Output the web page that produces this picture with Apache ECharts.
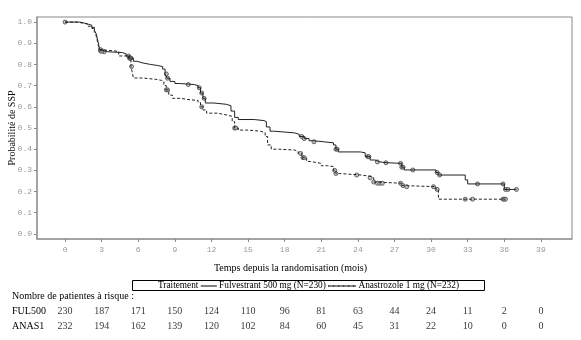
<!DOCTYPE html>
<html>
<head>
<meta charset="utf-8">
<script src="https://cdn.jsdelivr.net/npm/echarts@6/dist/echarts.min.js"></script>
<style>
  html, body { margin: 0; padding: 0; background: #fff; }
  #chart { width: 581px; height: 340px; }
</style>
</head>
<body>
<div id="chart"></div>
<script>
// Kaplan-Meier steps: [time in months, survival probability after the event]
const fulvestrantCurve = [
  [0, 1.0], [1.2, 0.995], [1.6, 0.99], [1.9, 0.985], [2.2, 0.975], [2.4, 0.962],
  [2.55, 0.945], [2.65, 0.92], [2.75, 0.895], [2.8, 0.877], [2.9, 0.865], [3.1, 0.86],
  [3.5, 0.856], [4.7, 0.85], [5.0, 0.84], [5.3, 0.83], [5.6, 0.815], [5.9, 0.808],
  [6.3, 0.80], [7.0, 0.795], [7.6, 0.79], [8.0, 0.778], [8.2, 0.755], [8.35, 0.735],
  [8.6, 0.72], [9.0, 0.71], [9.4, 0.705], [10.6, 0.70], [10.9, 0.69], [11.1, 0.665],
  [11.3, 0.64], [11.5, 0.618], [12.2, 0.612], [13.2, 0.605], [13.6, 0.58], [13.9, 0.55],
  [14.2, 0.54], [15.5, 0.535], [16.3, 0.53], [16.5, 0.505], [16.8, 0.485], [17.1, 0.477],
  [18.8, 0.47], [19.2, 0.46], [19.6, 0.45], [20.0, 0.44], [20.3, 0.435], [21.2, 0.43],
  [22.0, 0.42], [22.2, 0.40], [22.4, 0.387], [24.2, 0.383], [24.6, 0.365], [25.0, 0.349],
  [25.4, 0.34], [25.8, 0.336], [26.4, 0.333], [27.6, 0.315], [27.8, 0.302], [30.4, 0.29],
  [30.6, 0.278], [32.8, 0.255], [33.0, 0.236], [36.0, 0.21], [37.0, 0.21]
];
const anastrozoleCurve = [
  [0, 1.0], [1.0, 0.995], [1.5, 0.99], [1.9, 0.98], [2.2, 0.97], [2.4, 0.955],
  [2.55, 0.935], [2.65, 0.91], [2.75, 0.885], [2.85, 0.87], [3.0, 0.862], [4.4, 0.84],
  [5.2, 0.83], [5.4, 0.79], [5.5, 0.765], [5.6, 0.736], [6.4, 0.73], [7.4, 0.725],
  [7.9, 0.72], [8.1, 0.70], [8.3, 0.68], [8.5, 0.655], [8.8, 0.64], [9.5, 0.635],
  [10.0, 0.63], [10.9, 0.62], [11.1, 0.60], [11.3, 0.585], [11.6, 0.57], [12.5, 0.562],
  [13.2, 0.555], [13.7, 0.53], [13.9, 0.50], [14.2, 0.49], [15.0, 0.485], [16.0, 0.478],
  [16.4, 0.46], [16.6, 0.42], [16.9, 0.40], [17.5, 0.396], [18.8, 0.39], [19.1, 0.38],
  [19.4, 0.36], [19.8, 0.342], [20.1, 0.333], [21.0, 0.322], [21.5, 0.318], [22.0, 0.30],
  [22.2, 0.285], [22.5, 0.278], [24.3, 0.272], [25.0, 0.265], [25.3, 0.245], [25.5, 0.239],
  [27.6, 0.228], [27.8, 0.223], [30.4, 0.21], [30.6, 0.164], [36.1, 0.164]
];

// Censoring times (months)
const fulvestrantCensored = [0, 2.9, 3.0, 3.2, 5.2, 5.3, 5.4, 8.3, 8.4, 10.1, 11.0, 11.2, 11.4,
  19.4, 19.6, 20.4, 22.2, 22.3, 24.8, 24.9, 25.6, 26.3, 27.5, 27.6, 27.7, 28.5, 30.5, 30.7,
  33.8, 35.9, 36.1, 36.3, 37.0];
const anastrozoleCensored = [2.9, 3.0, 5.3, 5.35, 5.45, 8.3, 8.4, 11.2, 13.9, 14.0, 19.3, 19.5,
  19.6, 22.1, 22.2, 23.9, 25.0, 25.3, 25.6, 25.8, 26.0, 27.5, 27.7, 28.0, 30.2, 30.5, 32.8,
  33.4, 35.9, 36.0, 36.1];

// Axis ticks
const monthTicks = [0, 3, 6, 9, 12, 15, 18, 21, 24, 27, 30, 33, 36, 39];
const probTicks = [0, 0.1, 0.2, 0.3, 0.4, 0.5, 0.6, 0.7, 0.8, 0.9, 1.0];

// Number at risk
const riskGroups = ['FUL500', 'ANAS1'];
const riskFulvestrant = [230, 187, 171, 150, 124, 110, 96, 81, 63, 44, 24, 11, 2, 0];
const riskAnastrozole = [232, 194, 162, 139, 120, 102, 84, 60, 45, 31, 22, 10, 0, 0];

const nameFul = 'Fulvestrant 500 mg (N=230)';
const nameAna = 'Anastrozole 1 mg (N=232)';

function survivalAt(curve, t) {
  let s = curve[0][1];
  for (const [ti, si] of curve) { if (ti <= t) s = si; else break; }
  return s;
}

const serif = 'Liberation Serif, Times New Roman, serif';
const mono = 'Liberation Mono, DejaVu Sans Mono, monospace';
const X_MIN = -2.3, X_MAX = 41.55;

const riskData = [];
monthTicks.forEach((t, i) => {
  riskData.push([t, riskGroups[0], riskFulvestrant[i]]);
  riskData.push([t, riskGroups[1], riskAnastrozole[i]]);
});

const chart = echarts.init(document.getElementById('chart'), null, { renderer: 'canvas' });

chart.setOption({
  animation: false,
  backgroundColor: '#fff',
  title: [
    {
      text: 'Temps depuis la randomisation (mois)',
      left: 'center', top: 258,
      textStyle: { fontFamily: serif, fontSize: 10, fontWeight: 'normal', color: '#000' }
    },
    {
      text: '{t|Traitement} {s|} {t|' + nameFul + '} {d|} {t|' + nameAna + '}',
      left: 132, top: 279,
      padding: [1, 26, 0, 26],
      borderColor: '#000', borderWidth: 1,
      textStyle: {
        fontFamily: serif, fontSize: 9.3, fontWeight: 'normal', color: '#000',
        rich: {
          t: { fontFamily: serif, fontSize: 9.3, color: '#000', lineHeight: 12 },
          s: { width: 16, height: 1, backgroundColor: '#000' },
          d: { width: 28, height: 0, borderWidth: 1, borderType: [3, 2], borderColor: '#000' }
        }
      }
    },
    {
      text: 'Nombre de patientes à risque :',
      left: 12, top: 291,
      padding: 0,
      textStyle: { fontFamily: serif, fontSize: 10, fontWeight: 'normal', color: '#000' }
    }
  ],
  grid: [
    {
      left: 37, right: 9, top: 17, bottom: 101, show: true, borderColor: '#888', borderWidth: 1,
      containLabel: false, outerBoundsMode: 'none'
    },
    { left: 37, right: 9, top: 304, height: 30, containLabel: false, outerBoundsMode: 'none' }
  ],
  xAxis: [
    {
      gridIndex: 0, type: 'value', min: X_MIN, max: X_MAX,
      axisLine: { show: true, onZero: false, lineStyle: { color: '#999', width: 1.5 } },
      axisTick: { show: true, length: 3, customValues: monthTicks, lineStyle: { color: '#888' } },
      axisLabel: {
        customValues: monthTicks, margin: 7,
        fontFamily: mono, fontSize: 8, color: '#999'
      },
      splitLine: { show: false }
    },
    {
      gridIndex: 1, type: 'value', min: X_MIN, max: X_MAX, show: false
    }
  ],
  yAxis: [
    {
      gridIndex: 0, type: 'value', min: -0.024, max: 1.024,
      name: 'Probabilité de SSP', nameLocation: 'middle', nameGap: 20, nameMoveOverlap: false,
      nameTextStyle: { fontFamily: serif, fontSize: 10, color: '#000' },
      axisLine: { show: true, onZero: false, lineStyle: { color: '#999', width: 1.5 } },
      axisTick: { show: true, length: 3, customValues: probTicks, lineStyle: { color: '#888' } },
      axisLabel: {
        customValues: probTicks, margin: 5,
        fontFamily: mono, fontSize: 8, color: '#999',
        formatter: v => v.toFixed(1)
      },
      splitLine: { show: false }
    },
    {
      gridIndex: 1, type: 'category', data: riskGroups, inverse: true,
      axisLine: { show: false }, axisTick: { show: false },
      axisLabel: {
        align: 'left', margin: 25,
        fontFamily: serif, fontSize: 10, color: '#000'
      }
    }
  ],
  series: [
    {
      name: nameFul, type: 'line', step: 'end', symbol: 'none',
      xAxisIndex: 0, yAxisIndex: 0,
      lineStyle: { color: '#222', width: 1 },
      data: fulvestrantCurve
    },
    {
      name: nameAna, type: 'line', step: 'end', symbol: 'none',
      xAxisIndex: 0, yAxisIndex: 0,
      lineStyle: { color: '#222', width: 1, type: [3, 2] },
      data: anastrozoleCurve
    },
    {
      type: 'scatter', xAxisIndex: 0, yAxisIndex: 0,
      symbol: 'circle', symbolSize: 4,
      itemStyle: { color: '#bbb', borderColor: '#444', borderWidth: 1 },
      data: fulvestrantCensored.map(t => [t, survivalAt(fulvestrantCurve, t)])
    },
    {
      type: 'scatter', xAxisIndex: 0, yAxisIndex: 0,
      symbol: 'circle', symbolSize: 4,
      itemStyle: { color: '#bbb', borderColor: '#444', borderWidth: 1 },
      data: anastrozoleCensored.map(t => [t, survivalAt(anastrozoleCurve, t)])
    },
    {
      type: 'scatter', xAxisIndex: 1, yAxisIndex: 1,
      symbolSize: 1, itemStyle: { color: 'rgba(0,0,0,0)' },
      label: {
        show: true, position: 'inside',
        formatter: p => String(p.value[2]),
        fontFamily: serif, fontSize: 10, color: '#000'
      },
      data: riskData
    }
  ]
});
</script>
</body>
</html>
